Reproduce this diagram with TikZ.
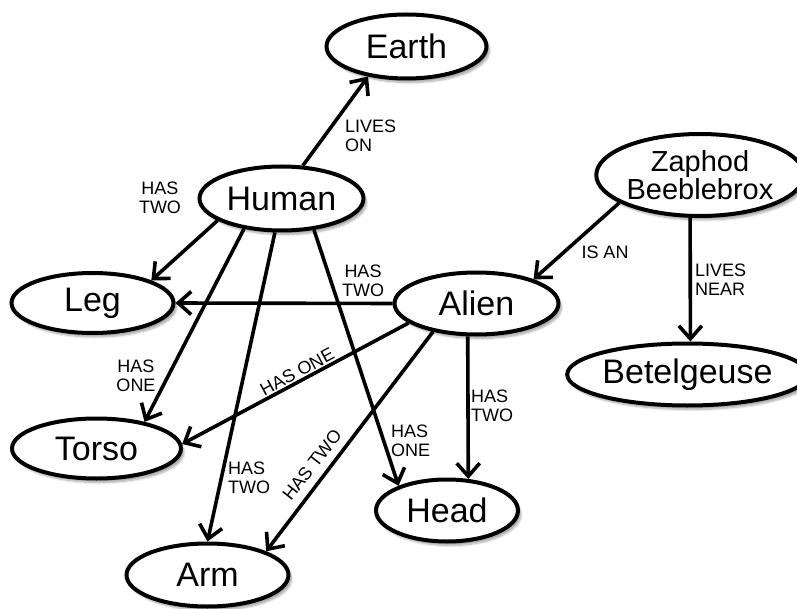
\documentclass[tikz,border=0pt]{standalone}
\usepackage{fontspec}
\setmainfont{Liberation Sans}
\usetikzlibrary{shapes.geometric,arrows.meta,shadows.blur}
\begin{document}
\begin{tikzpicture}[x=1pt,y=-1pt,
  concept/.style={ellipse,draw=black,line width=4pt,fill=white,inner sep=0pt,
    font=\fontsize{34}{36}\selectfont,
    blur shadow={shadow xshift=3pt,shadow yshift=-4pt,shadow blur steps=6,shadow opacity=35}},
  rel/.style={line width=3.6pt,-{Straight Barb[length=13pt,width=23pt,line width=3.6pt]}},
  lbl/.style={inner sep=0pt,font=\fontsize{18}{19}\selectfont,align=center},
  lbll/.style={inner sep=0pt,font=\fontsize{18}{19}\selectfont,align=left,anchor=west}]
\useasboundingbox (0,0) rectangle (797,609);
% concepts
\node[concept,minimum width=160pt,minimum height=64pt] (earth) at (406.5,46.5) {Earth};
\node[concept,minimum width=164pt,minimum height=64pt] (human) at (281.5,198.5) {Human};
\node[concept,minimum width=164pt,minimum height=62pt] (alien) at (476.5,303.5) {Alien};
\node[concept,minimum width=189pt,minimum height=82pt,align=center,font=\fontsize{29}{27}\selectfont] (zaphod) at (700,175) {Zaphod\\Beeblebrox};
\node[concept,minimum width=206pt,minimum height=62pt] (betel) at (687.5,374.5) {Betelgeuse};
\node[concept,minimum width=162pt,minimum height=60pt] (leg) at (92.5,303) {Leg};
\node[concept,minimum width=169pt,minimum height=60pt] (torso) at (96.5,448.5) {Torso};
\node[concept,minimum width=142pt,minimum height=62pt] (head) at (447,510.5) {Head};
\node[concept,minimum width=162pt,minimum height=63pt] (arm) at (207.5,575) {Arm};
% relations
\draw[rel] (human.57.5) -- (earth.-142.7);
\draw[rel] (human.-161) -- (leg.21);
\draw[rel] (alien.west) -- (leg.east);
\draw[rel] (human.-141) -- (torso.29);
\draw[rel] (alien.-164.7) -- (torso.3.2);
\draw[rel] (human.-101.6) -- (arm.90);
\draw[rel] (alien.-147.4) -- (arm.22.8);
\draw[rel] (human.-44.3) -- (head.153.7);
\draw[rel] (alien.-105.7) -- (head.56);
\draw[rel] (zaphod.-161.5) -- (alien.23);
\draw[rel] (zaphod.-103.3) -- (betel.85.6);
% labels
\node[lbll] (l1) at (345,136) {LIVES\\ON};
\node[lbl] (l2) at (160,198) {HAS\\TWO};
\node[lbl] (l3) at (363,281) {HAS\\TWO};
\node[lbl] (l4) at (136,376) {HAS\\ONE};
\node[lbl,rotate=28.4] (l5) at (297,372) {HAS ONE};
\node[lbll] (l6) at (228,478) {HAS\\TWO};
\node[lbl,rotate=52.2] (l7) at (312,465) {HAS TWO};
\node[lbll] (l8) at (391,441) {HAS\\ONE};
\node[lbll] (l9) at (471,406) {HAS\\TWO};
\node[lbl] (l10) at (605,252) {IS AN};
\node[lbll] (l11) at (695,280) {LIVES\\NEAR};
\end{tikzpicture}
\end{document}
